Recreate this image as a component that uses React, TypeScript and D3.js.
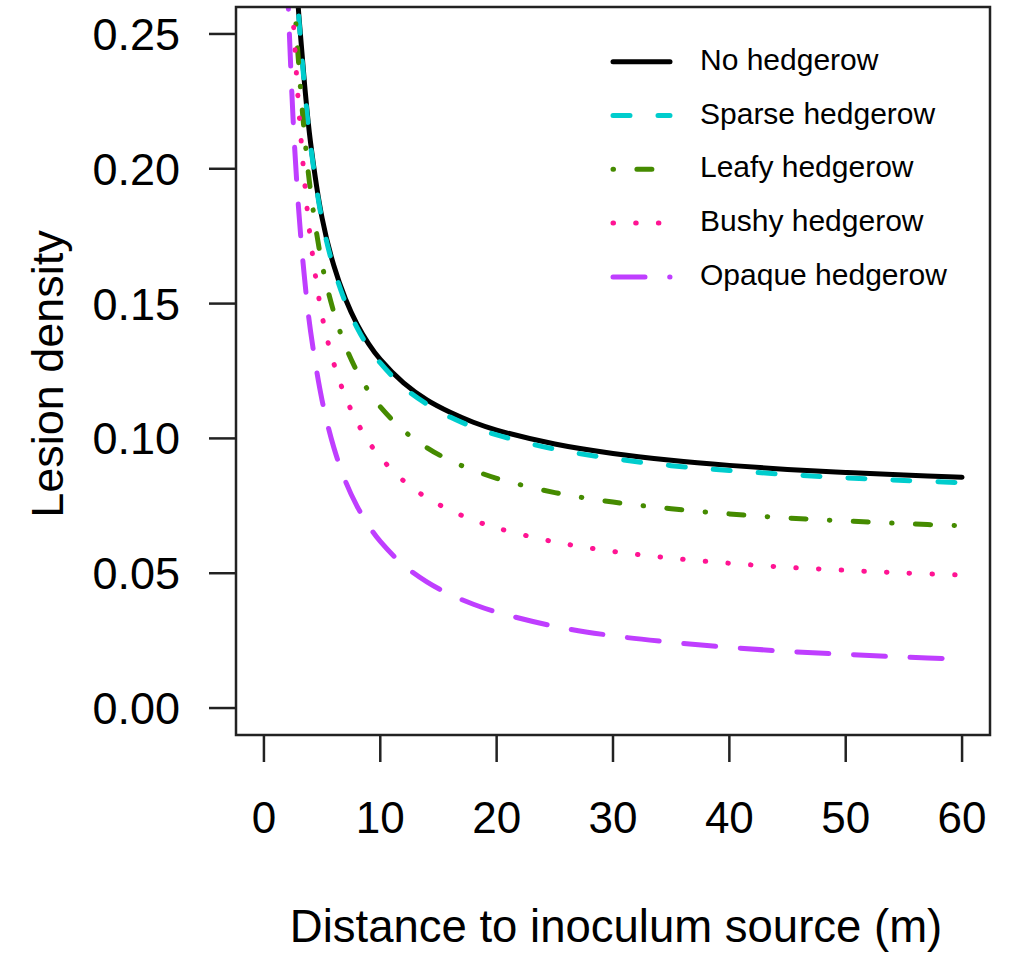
import React from 'react'
import * as d3 from 'd3'

// distance to inoculum source (m)
const distances = [2, 2.5, 3, 3.5, 4, 5, 6, 7, 8, 9, 10, 12, 14, 16, 18, 20, 25, 30, 35, 40, 45, 50, 55, 60]

// lesion density
const noHedgerow = [0.339, 0.290, 0.257, 0.231, 0.210, 0.1817, 0.1642, 0.1518, 0.1424, 0.1351, 0.1293, 0.1206, 0.1143, 0.1097, 0.1060, 0.1031, 0.0979, 0.0944, 0.0919, 0.0900, 0.0885, 0.0874, 0.0864, 0.0856]
const sparseHedgerow = [0.340, 0.290, 0.256, 0.230, 0.209, 0.1808, 0.1631, 0.1505, 0.1411, 0.1337, 0.1280, 0.1190, 0.1127, 0.1079, 0.1042, 0.1013, 0.0960, 0.0925, 0.0899, 0.0881, 0.0866, 0.0854, 0.0844, 0.0836]
const leafyHedgerow = [0.323, 0.272, 0.238, 0.212, 0.192, 0.1645, 0.1469, 0.1343, 0.1249, 0.1175, 0.1117, 0.1029, 0.0966, 0.0918, 0.0882, 0.0852, 0.0799, 0.0764, 0.0739, 0.0720, 0.0705, 0.0694, 0.0684, 0.0676]
const bushyHedgerow = [0.303, 0.257, 0.222, 0.195, 0.174, 0.1454, 0.1279, 0.1155, 0.1061, 0.0988, 0.0930, 0.0843, 0.0780, 0.0734, 0.0697, 0.0668, 0.0616, 0.0581, 0.0556, 0.0537, 0.0522, 0.0511, 0.0501, 0.0493]
const opaqueHedgerow = [0.271, 0.219, 0.184, 0.159, 0.140, 0.1141, 0.0967, 0.0842, 0.0749, 0.0676, 0.0618, 0.0530, 0.0468, 0.0421, 0.0385, 0.0356, 0.0303, 0.0268, 0.0244, 0.0225, 0.0210, 0.0199, 0.0189, 0.0181]

const seriesNames = ['No hedgerow', 'Sparse hedgerow', 'Leafy hedgerow', 'Bushy hedgerow', 'Opaque hedgerow']
const seriesValues = [noHedgerow, sparseHedgerow, leafyHedgerow, bushyHedgerow, opaqueHedgerow]

const xTicks = [0, 10, 20, 30, 40, 50, 60]
const yTicks = [0, 0.05, 0.1, 0.15, 0.2, 0.25]

const colors = ['#000000', '#00CDCD', '#458B00', '#FF1493', '#BF3EFF']
const dashes = ['none', '17 28', '0.5 23.4 15 23.4', '0.5 22.2', '32 24.7']

const font = '"Liberation Sans", Arial, Helvetica, sans-serif'

export default function App() {
  const width = 1015
  const height = 953
  const box = { left: 236, right: 990, top: 7, bottom: 735 }

  const x = d3.scaleLinear().domain([-2.4, 62.4]).range([box.left, box.right])
  const y = d3.scaleLinear().domain([-0.01, 0.26]).range([box.bottom, box.top])

  const line = d3.line<number>()
    .x((d, i) => x(distances[i]))
    .y((d) => y(d))
    .curve(d3.curveCatmullRom.alpha(0.5))

  const tickLen = 27
  const legendX0 = 613
  const legendX1 = 670
  const legendY0 = 61.7
  const legendStep = 53.8

  return (
    <svg width={width} height={height} style={{ position: 'absolute', left: 0, top: 0, background: '#fff' }}
      fontFamily={font}>
      <defs>
        <clipPath id="plotClip">
          <rect x={box.left} y={box.top} width={box.right - box.left} height={box.bottom - box.top} />
        </clipPath>
      </defs>
      <rect x={0} y={0} width={width} height={height} fill="#fff" />

      <g clipPath="url(#plotClip)">
        {seriesValues.map((vals, i) => (
          <path key={seriesNames[i]} d={line(vals) || ''} fill="none" stroke={colors[i]}
            strokeWidth={5} strokeDasharray={dashes[i]} strokeLinecap="round" strokeLinejoin="round" />
        ))}
      </g>

      <rect x={box.left} y={box.top} width={box.right - box.left} height={box.bottom - box.top}
        fill="none" stroke="#222" strokeWidth={2.5} />

      {xTicks.map((t) => (
        <g key={'x' + t}>
          <line x1={x(t)} x2={x(t)} y1={box.bottom} y2={box.bottom + tickLen} stroke="#222" strokeWidth={2.5} />
          <text x={x(t)} y={833} fontSize={44} textAnchor="middle" fill="#000">{t}</text>
        </g>
      ))}
      {yTicks.map((t) => (
        <g key={'y' + t}>
          <line x1={box.left - tickLen} x2={box.left} y1={y(t)} y2={y(t)} stroke="#222" strokeWidth={2.5} />
          <text x={180} y={y(t) + 16} fontSize={45} textAnchor="end" fill="#000">{d3.format('.2f')(t)}</text>
        </g>
      ))}

      <text x={(box.left + box.right) / 2 + 3} y={942} fontSize={45.5} textAnchor="middle" fill="#000">
        Distance to inoculum source (m)
      </text>
      <text transform={`translate(63, ${(box.top + box.bottom) / 2 + 3}) rotate(-90)`} fontSize={45}
        textAnchor="middle" fill="#000">
        Lesion density
      </text>

      {seriesNames.map((name, i) => {
        const ly = legendY0 + i * legendStep
        return (
          <g key={'leg' + name}>
            <line x1={legendX0} x2={legendX1} y1={ly} y2={ly} stroke={colors[i]} strokeWidth={5}
              strokeDasharray={dashes[i]} strokeLinecap="round" />
            <text x={700} y={ly + 8} fontSize={30} fill="#000">{name}</text>
          </g>
        )
      })}
    </svg>
  )
}
